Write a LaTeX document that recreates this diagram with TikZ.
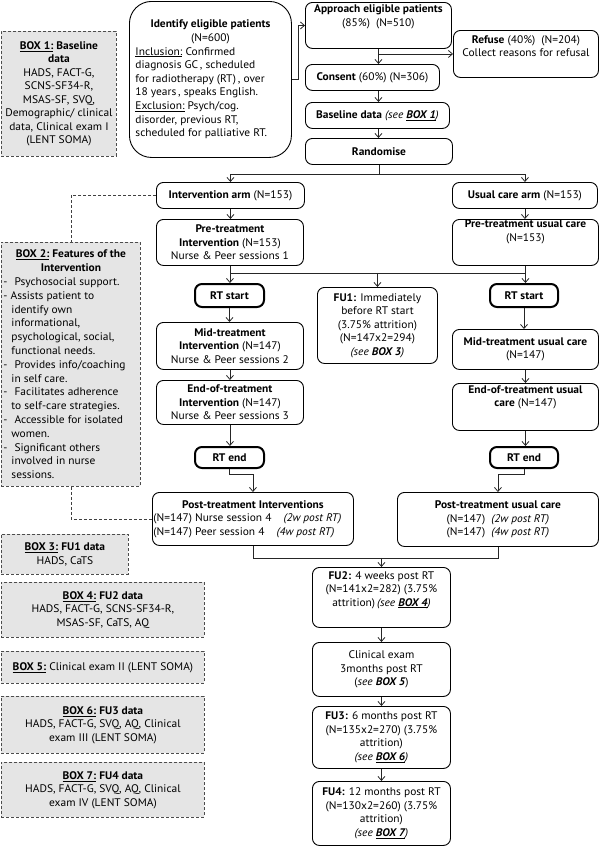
\documentclass[tikz,border=0pt]{standalone}
\usepackage{fontspec}
\setmainfont{PT Sans}[FakeStretch=1.04]
\usetikzlibrary{arrows.meta,calc}
\newcommand\myfs{\fontsize{11}{13.5}\selectfont}
\begin{document}
\begin{tikzpicture}[x=1pt,y=-1pt,
 fbox/.style={draw, rounded corners=7pt, line width=0.9pt, align=center, inner sep=0pt, anchor=north west, font=\myfs},
 rtbox/.style={fbox, line width=2pt},
 dbox/.style={draw=black!70, dash pattern=on 3pt off 2pt, fill=black!10, line width=0.9pt, align=center, inner sep=0pt, anchor=north west, font=\myfs},
 conn/.style={line width=0.8pt, black!85},
 arr/.style={conn, -{Straight Barb[length=4pt,width=7pt]}},
 dline/.style={line width=0.8pt, black!75, dash pattern=on 3pt off 2pt}]
\useasboundingbox (0,0) rectangle (600,846);

% ---- left data boxes
\node[dbox, minimum width=115pt, minimum height=125pt] (box1) at (1,31)
 {\fontsize{11}{14}\selectfont\underline{\textbf{BOX 1:}} \textbf{Baseline}\\ \textbf{data}\\ HADS, FACT-G,\\ SCNS-SF34-R,\\ MSAS-SF, SVQ,\\ Demographic/ clinical\\ data, Clinical exam I\\ (LENT SOMA)};

\node[dbox, minimum width=139pt, minimum height=244pt] (box2) at (1,242)
 {\begin{minipage}{135pt}\fontsize{11}{13.8}\selectfont
 \centering\underline{\textbf{BOX 2:}} \textbf{Features of the}\\ \textbf{Intervention}\par
 \raggedright
 -\hspace{7pt}Psychosocial support.\\
 -\hspace{3pt}Assists patient to\\
 \hspace*{8pt}identify own\\
 \hspace*{8pt}informational,\\
 \hspace*{8pt}psychological, social,\\
 \hspace*{8pt}functional needs.\\
 -\hspace{7pt}Provides info/coaching\\
 \hspace*{8pt}in self care.\\
 -\hspace{7pt}Facilitates adherence\\
 \hspace*{8pt}to self-care strategies.\\
 -\hspace{7pt}Accessible for isolated\\
 \hspace*{8pt}women.\\
 -\hspace{7pt}Significant others\\
 \hspace*{8pt}involved in nurse\\
 \hspace*{8pt}sessions.
 \end{minipage}};

\node[dbox, minimum width=127pt, minimum height=40pt] (box3) at (1,534)
 {\underline{\textbf{BOX 3:}} \textbf{FU1 data}\\ HADS, CaTS};
\node[dbox, minimum width=203pt, minimum height=55pt] (box4) at (1,582)
 {\underline{\textbf{BOX 4:}} \textbf{FU2 data}\\ HADS, FACT-G, SCNS-SF34-R,\\ MSAS-SF, CaTS, AQ};
\node[dbox, minimum width=203pt, minimum height=32pt] (box5) at (1,651)
 {\underline{\textbf{BOX 5:}} Clinical exam II (LENT SOMA)};
\node[dbox, minimum width=203pt, minimum height=57pt] (box6) at (1,696)
 {\underline{\textbf{BOX 6:}} \textbf{FU3 data}\\ HADS, FACT-G, SVQ, AQ, Clinical\\ exam III (LENT SOMA)};
\node[dbox, minimum width=203pt, minimum height=55pt] (box7) at (1,762)
 {\underline{\textbf{BOX 7:}} \textbf{FU4 data}\\ HADS, FACT-G, SVQ, AQ, Clinical\\ exam IV (LENT SOMA)};

% ---- top part
\node[fbox, rounded corners=22pt, minimum width=162pt, minimum height=156pt] (identify) at (129,1)
 {\begin{minipage}{150pt}\fontsize{11}{13.6}\selectfont
 \centering\textbf{Identify eligible patients}\\ (N=600)\par
 \raggedright
 \underline{Inclusion:} Confirmed\\
 diagnosis GC\,, scheduled\\
 for radiotherapy (RT)\,, over\\
 18 years\,, speaks English.\\
 \underline{Exclusion:} Psych/cog.\\
 disorder, previous RT,\\
 scheduled for palliative RT.
 \end{minipage}};

\node[fbox, minimum width=146pt, minimum height=46pt] (approach) at (305,2)
 {\textbf{Approach eligible patients}\\ (85\%)\ \ (N=510)\\[6pt]};
\node[fbox, minimum width=145pt, minimum height=47pt] (refuse) at (453,30)
 {\textbf{Refuse} (40\%)\ \ (N=204)\\ Collect reasons for refusal\\[2pt]};
\node[fbox, minimum width=134pt, minimum height=26pt] (consent) at (305,64)
 {\textbf{Consent} (60\%) (N=306)};
\node[fbox, minimum width=144pt, minimum height=26pt] (baseline) at (305,102)
 {\textbf{Baseline data} \textit{(see \underline{\textbf{BOX 1}})}};
\node[fbox, minimum width=147pt, minimum height=26pt] (randomise) at (305,138)
 {\textbf{Randomise}};

% ---- arms
\node[fbox, minimum width=148pt, minimum height=26pt] (intarm) at (156,182)
 {\textbf{Intervention arm} (N=153)};
\node[fbox, minimum width=145pt, minimum height=26pt] (ucarm) at (452,182)
 {\textbf{Usual care arm} (N=153)};
\node[fbox, minimum width=147pt, minimum height=46pt] (preI) at (156,219)
 {\textbf{Pre-treatment}\\ \textbf{Intervention} (N=153)\\ Nurse \& Peer sessions 1};
\node[fbox, minimum width=146pt, minimum height=46pt] (preU) at (452,219)
 {\textbf{Pre-treatment usual care}\\ (N=153)\\[10pt]};
\node[rtbox, minimum width=69pt, minimum height=23pt] (rtsL) at (194,283) {\textbf{RT start}};
\node[rtbox, minimum width=68pt, minimum height=23pt] (rtsR) at (489,283) {\textbf{RT start}};
\node[fbox, minimum width=120pt, minimum height=76pt] (fu1) at (317,287)
 {\fontsize{11}{12.6}\selectfont\textbf{FU1:} Immediately\\ before RT start\\ (3.75\% attrition)\\ (N=147x2=294)\\ \textit{(see \textbf{BOX 3})}};
\node[fbox, minimum width=147pt, minimum height=47pt] (midI) at (156,322)
 {\textbf{Mid-treatment}\\ \textbf{Intervention} (N=147)\\ Nurse \& Peer sessions 2};
\node[fbox, minimum width=146pt, minimum height=40pt] (midU) at (452,329)
 {\textbf{Mid-treatment usual care}\\ (N=147)};
\node[fbox, minimum width=147pt, minimum height=44pt] (endI) at (156,380)
 {\textbf{End-of-treatment}\\ \textbf{Intervention} (N=147)\\ Nurse \& Peer sessions 3};
\node[fbox, minimum width=146pt, minimum height=47pt] (endU) at (452,383)
 {\textbf{End-of-treatment usual}\\ \textbf{care} (N=147)\\[8pt]};
\node[rtbox, minimum width=69pt, minimum height=21pt] (rteL) at (194,446) {\textbf{RT end}};
\node[rtbox, minimum width=68pt, minimum height=21pt] (rteR) at (489,446) {\textbf{RT end}};

\node[fbox, minimum width=201pt, minimum height=53pt] (postI) at (152,492)
 {\begin{minipage}{199pt}\myfs
 \centering\textbf{Post-treatment Interventions}\par
 \raggedright
 (N=147) Nurse session 4\hspace{12pt}\textit{(2w post RT)}\\
 (N=147) Peer session 4\hspace{12pt}\textit{(4w post RT)}
 \end{minipage}};
\node[fbox, minimum width=201pt, minimum height=54pt] (postU) at (397,492)
 {\textbf{Post-treatment usual care}\\ (N=147)\ \ \textit{(2w post RT)}\\ (N=147)\ \ \textit{(4w post RT)}};

% ---- follow-ups
\node[fbox, minimum width=138pt, minimum height=60pt] (fu2) at (312,567)
 {\textbf{FU2:} 4 weeks post RT\\ (N=141x2=282) (3.75\%\\ attrition)\,\textit{(see \underline{\textbf{BOX 4}})}\\[4pt]};
\node[fbox, minimum width=138pt, minimum height=54pt] (clin) at (312,642)
 {Clinical exam\\ 3months post RT\\ (\textit{see \textbf{BOX 5}})};
\node[fbox, minimum width=138pt, minimum height=62pt] (fu3) at (312,706)
 {\textbf{FU3:} 6 months post RT\\ (N=135x2=270) (3.75\%\\ attrition)\\ \textit{(see \underline{\textbf{BOX 6}})}};
\node[fbox, minimum width=138pt, minimum height=64pt] (fu4) at (312,781)
 {\textbf{FU4:} 12 months post RT\\ (N=130x2=260) (3.75\%\\ attrition)\\ \textit{(see \underline{\textbf{BOX 7}})}};

% ---- connectors
\draw[arr] (identify.east) -- ++(6,0) |- (approach.west);
\draw[arr] (approach.south) -- (approach.south |- consent.north);
\draw[arr] (approach.south |- refuse.west) -- (refuse.west);
\draw[arr] (approach.south |- consent.south) -- (approach.south |- baseline.north);
\draw[arr] (approach.south |- baseline.south) -- (approach.south |- randomise.north);

\coordinate (rj) at ($(randomise.south)+(0,9)$);
\draw[conn] (randomise.south) -- (rj);
\draw[arr] (rj) -| (intarm.north);
\draw[arr] (rj) -| (ucarm.north);
\draw[arr] (intarm.south) -- (intarm.south |- preI.north);
\draw[arr] (ucarm.south) -- (ucarm.south |- preU.north);

\coordinate (pjL) at ($(preI.south)+(0,7)$);
\coordinate (pjR) at (preU.south |- pjL);
\coordinate (pjM) at (fu1.north |- pjL);
\draw[conn] (preI.south) -- (pjL) -- (pjR) -- (preU.south);
\draw[arr] (pjL) -- (pjL |- rtsL.north);
\draw[arr] (pjM) -- (fu1.north);
\draw[arr] (pjR) -- (pjR |- rtsR.north);

\draw[arr] (rtsL.south) -- (rtsL.south |- midI.north);
\draw[arr] (rtsR.south) -- (rtsR.south |- midU.north);
\draw[arr] (midI.south) -- (midI.south |- endI.north);
\draw[arr] (midU.south) -- (midU.south |- endU.north);
\draw[arr] (endI.south) -- (endI.south |- rteL.north);
\draw[arr] (endU.south) -- (endU.south |- rteR.north);
\draw[arr] (rteL.south) -- ++(0,5) -| (postI.north);
\draw[arr] (rteR.south) -- ++(0,5) -| (postU.north);

\coordinate (fj) at ($(postI.south)+(0,12)$);
\draw[conn] (postI.south) -- (fj) -| (postU.south);
\draw[arr] (fu2.north |- fj) -- (fu2.north);
\draw[arr] (fu2.south) -- (fu2.south |- clin.north);
\draw[arr] (clin.south) -- (clin.south |- fu3.north);
\draw[arr] (fu3.south) -- (fu3.south |- fu4.north);

\draw[dline] (intarm.west) -| (box2.north);
\draw[dline] (box2.south) |- (postI.west);
\end{tikzpicture}
\end{document}
